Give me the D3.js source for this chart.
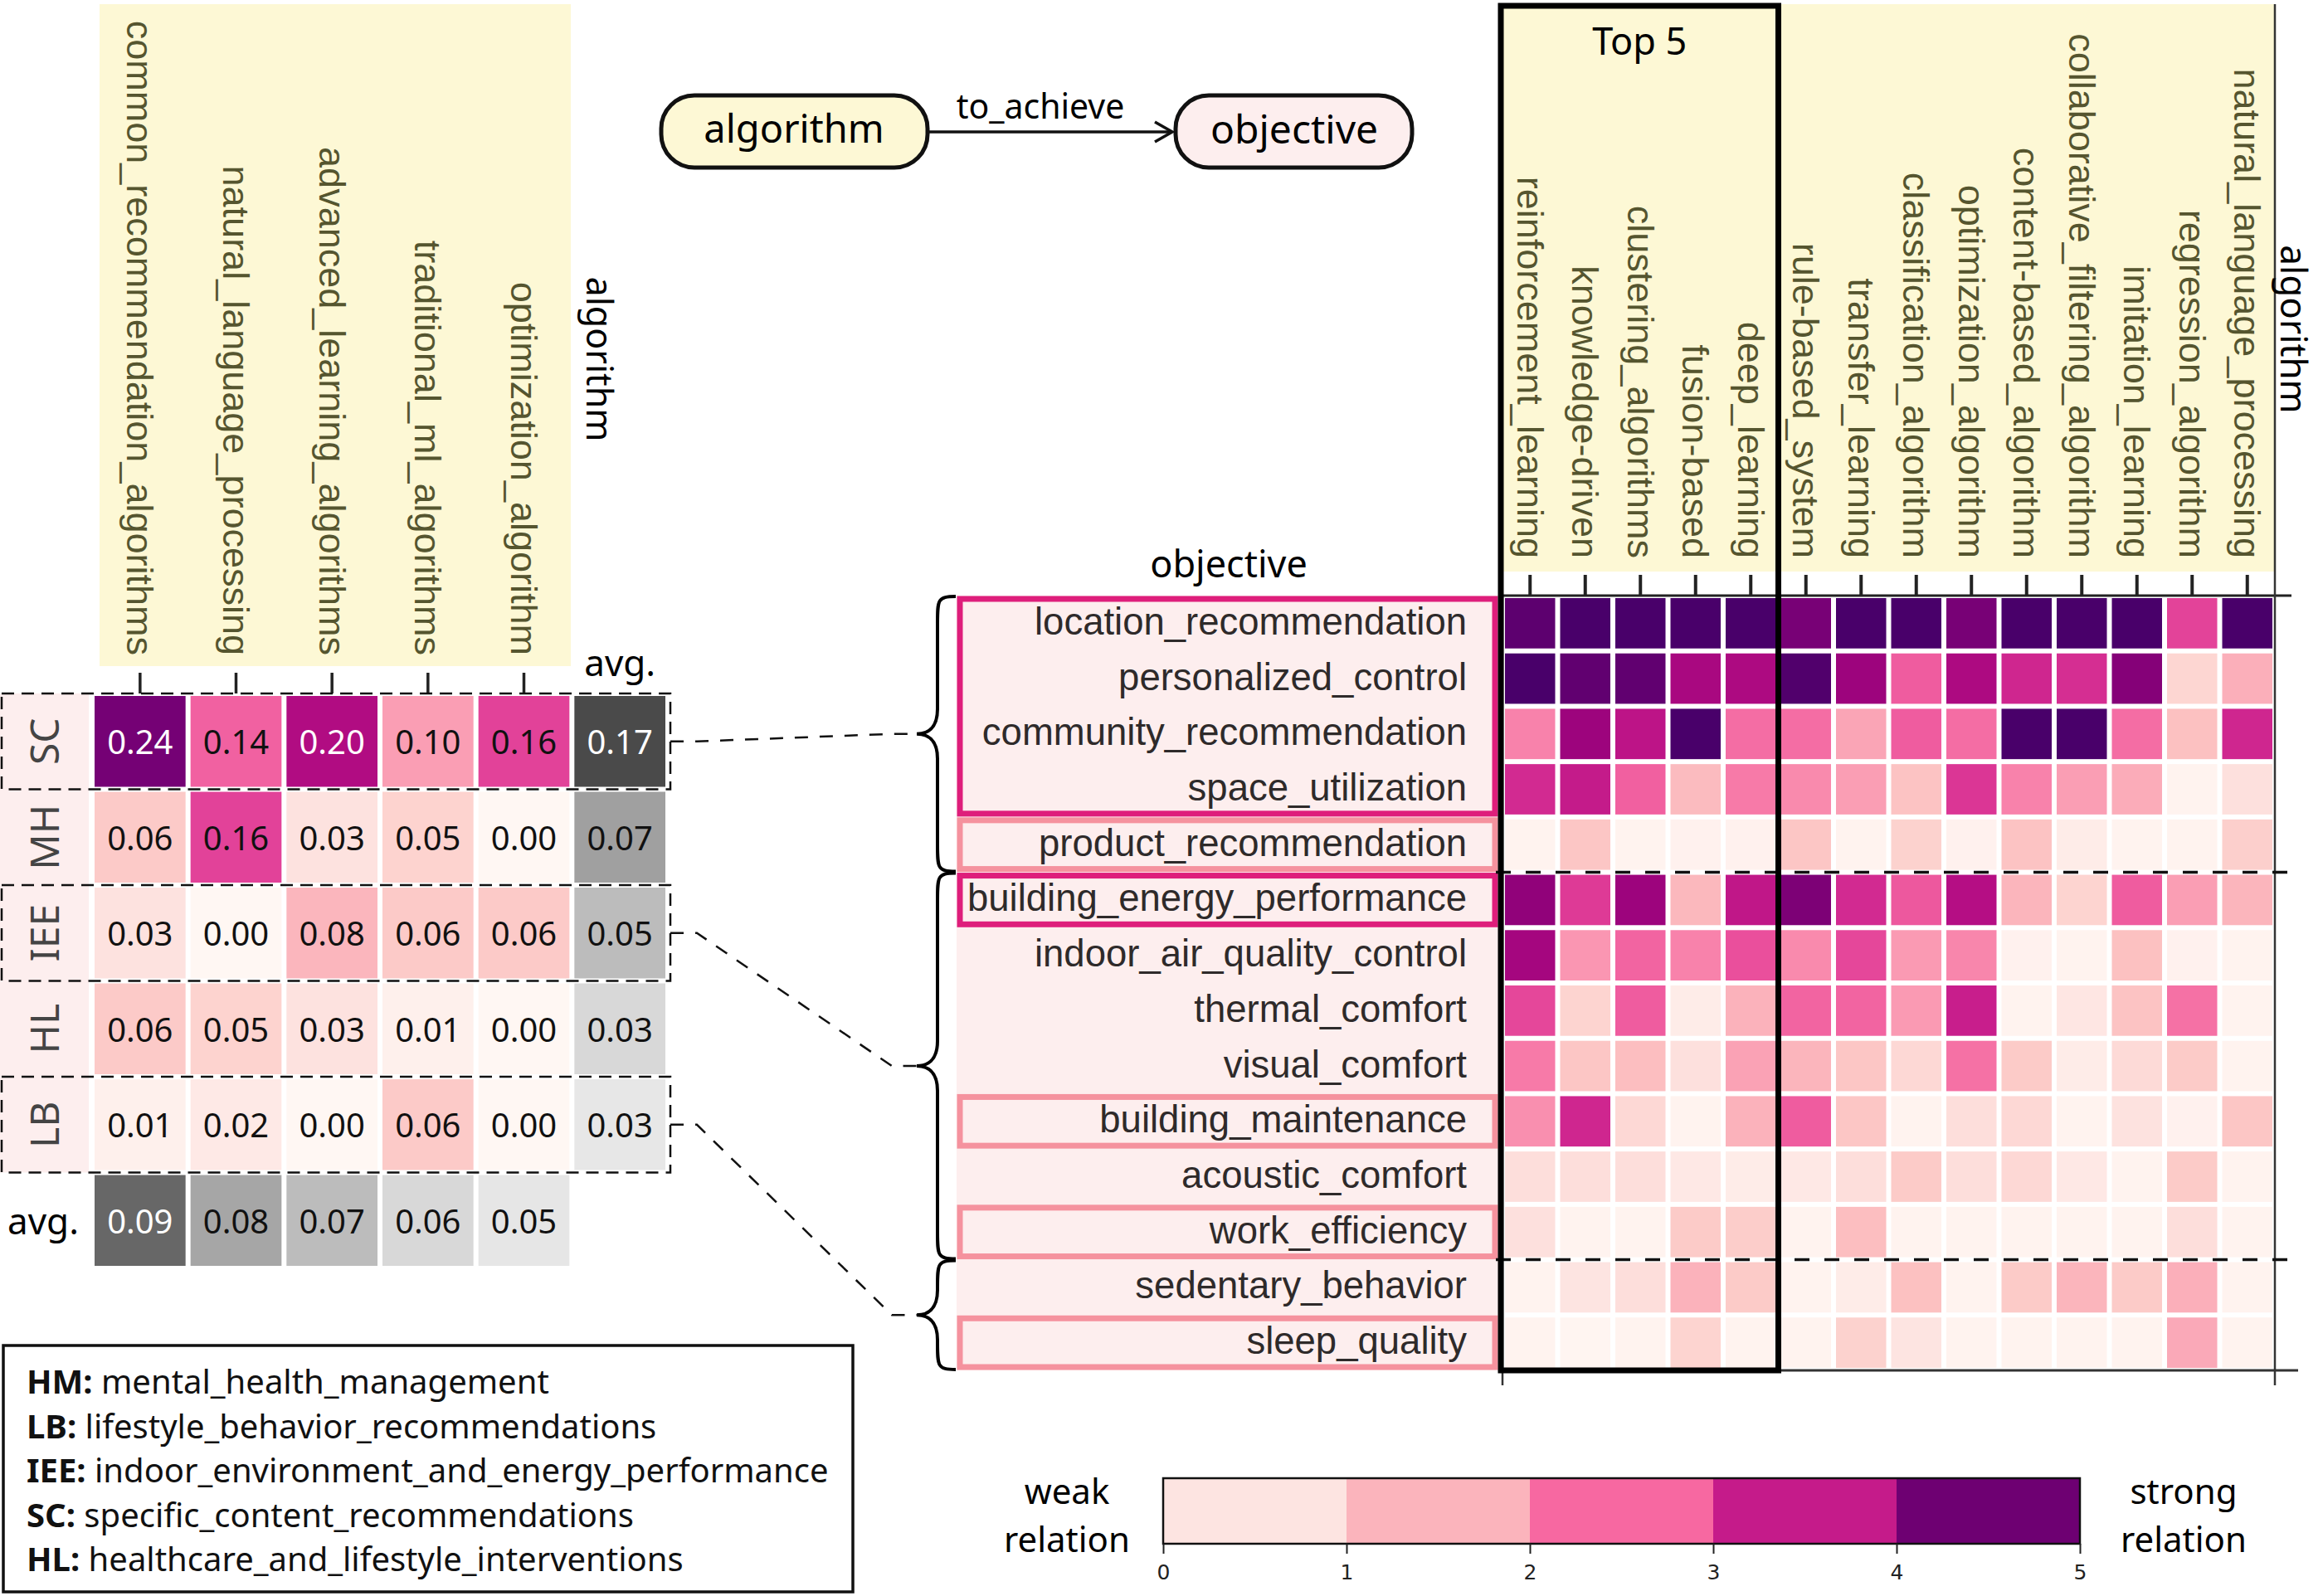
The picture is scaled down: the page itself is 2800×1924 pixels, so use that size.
<!DOCTYPE html>
<html>
<head>
<meta charset="utf-8">
<script src="https://cdn.jsdelivr.net/npm/d3@7"></script>
<style>
  body { margin: 0; background: #fff; }
  svg { display: block; }
</style>
</head>
<body>
<svg id="chart" width="2800" height="1924"></svg>
<script>
// ---------------- DATA ----------------
const leftAlgorithms = ['common_recommendation_algorithms', 'natural_language_processing',
  'advanced_learning_algorithms', 'traditional_ml_algorithms', 'optimization_algorithm'];
const leftGroups = ['SC', 'MH', 'IEE', 'HL', 'LB'];
const leftShares = [
  [0.24, 0.14, 0.20, 0.10, 0.16],
  [0.06, 0.16, 0.03, 0.05, 0.00],
  [0.03, 0.00, 0.08, 0.06, 0.06],
  [0.06, 0.05, 0.03, 0.01, 0.00],
  [0.01, 0.02, 0.00, 0.06, 0.00]
];
const groupAvg = [0.17, 0.07, 0.05, 0.03, 0.03];
const algorithmAvg = [0.09, 0.08, 0.07, 0.06, 0.05];
const linkedGroups = ['SC', 'IEE', 'LB'];

const rightAlgorithms = ['reinforcement_learning', 'knowledge-driven', 'clustering_algorithms',
  'fusion-based', 'deep_learning', 'rule-based_system', 'transfer_learning',
  'classification_algorithm', 'optimization_algorithm', 'content-based_algorithm',
  'collaborative_filtering_algorithm', 'imitation_learning', 'regression_algorithm',
  'natural_language_processing'];
const topFive = ['reinforcement_learning', 'knowledge-driven', 'clustering_algorithms', 'fusion-based', 'deep_learning'];
const objectives = ['location_recommendation', 'personalized_control', 'community_recommendation',
  'space_utilization', 'product_recommendation', 'building_energy_performance',
  'indoor_air_quality_control', 'thermal_comfort', 'visual_comfort', 'building_maintenance',
  'acoustic_comfort', 'work_efficiency', 'sedentary_behavior', 'sleep_quality'];
const relationScores = [
  [4.75, 5.0, 5.0, 5.0, 5.0, 4.4, 5.0, 5.0, 4.4, 5.0, 5.0, 5.0, 2.95, 5.0],
  [5.0, 4.7, 4.7, 3.8, 3.75, 4.9, 3.95, 2.65, 3.75, 3.3, 3.2, 4.25, 0.85, 1.6],
  [2.2, 3.95, 3.55, 5.0, 2.45, 2.45, 1.75, 2.65, 2.45, 5.0, 5.0, 2.45, 1.3, 3.3],
  [3.25, 3.45, 2.6, 1.4, 2.3, 2.1, 1.85, 1.25, 3.1, 2.2, 1.85, 1.65, 0.1, 0.6],
  [0.1, 1.2, 0.1, 0.15, 0.15, 1.2, 0.1, 0.95, 0.15, 1.25, 0.3, 0.1, 0.1, 1.0],
  [4.1, 3.05, 3.95, 1.45, 3.5, 4.35, 3.25, 2.7, 3.65, 1.5, 0.9, 2.65, 1.85, 1.5],
  [3.85, 1.95, 2.55, 2.2, 2.8, 2.1, 2.9, 1.9, 2.15, 0.15, 0.1, 1.3, 0.15, 0.1],
  [2.9, 0.9, 2.65, 0.3, 1.55, 2.55, 2.55, 1.9, 3.4, 0.1, 0.45, 1.25, 2.4, 0.1],
  [2.3, 1.2, 1.35, 0.6, 1.8, 1.5, 1.2, 0.8, 2.4, 1.1, 0.3, 0.75, 1.1, 0.1],
  [2.05, 3.3, 0.8, 0.1, 1.55, 2.65, 1.2, 0.1, 0.65, 0.8, 0.1, 0.55, 0.15, 1.2],
  [0.65, 0.65, 0.65, 0.4, 0.3, 0.4, 0.65, 1.1, 0.65, 0.8, 0.4, 0.1, 1.1, 0.1],
  [0.6, 0.1, 0.1, 1.1, 1.05, 0.1, 1.35, 0.1, 0.1, 0.1, 0.1, 0.1, 0.65, 0.1],
  [0.1, 0.5, 0.65, 1.55, 1.1, 0.1, 0.3, 1.3, 0.1, 1.1, 1.5, 1.1, 1.6, 0.1],
  [0.1, 0.05, 0.1, 0.9, 0.1, 0.1, 0.95, 0.5, 0.1, 0.1, 0.1, 0.1, 1.7, 0.1]
];
const objectiveGroups = [
  { group: 'SC', first: 'location_recommendation', last: 'product_recommendation' },
  { group: 'IEE', first: 'building_energy_performance', last: 'work_efficiency' },
  { group: 'LB', first: 'sedentary_behavior', last: 'sleep_quality' }
];
const strongBoxes = [['location_recommendation', 'space_utilization'],
  ['building_energy_performance', 'building_energy_performance']];
const weakBoxes = ['product_recommendation', 'building_maintenance', 'work_efficiency', 'sleep_quality'];

const colorbarTicks = [0, 1, 2, 3, 4, 5];
const colorbarEnds = [['weak', 'relation'], ['strong', 'relation']];
const legendEntries = [
  ['HM', 'mental_health_management'],
  ['LB', 'lifestyle_behavior_recommendations'],
  ['IEE', 'indoor_environment_and_energy_performance'],
  ['SC', 'specific_content_recommendations'],
  ['HL', 'healthcare_and_lifestyle_interventions']
];

// ---------------- DRAWING ----------------
const svg = d3.select('#chart');
const HUM = "'Noto Sans', 'Open Sans', sans-serif";
const ARI = "'Liberation Sans', Arial, sans-serif";
const YELLOW = '#fdf8d5', PINKBG = '#fdeeee', LABEL = '#55552f';

svg.append('rect').attr('width', 2800).attr('height', 1924).attr('fill', '#fff');

// ---- Top diagram ----
const diag = svg.append('g');
diag.append('rect').attr('x', 797).attr('y', 115).attr('width', 321).attr('height', 87)
  .attr('rx', 40).attr('fill', YELLOW).attr('stroke', '#111').attr('stroke-width', 5);
diag.append('rect').attr('x', 1417).attr('y', 115).attr('width', 285).attr('height', 87)
  .attr('rx', 40).attr('fill', PINKBG).attr('stroke', '#111').attr('stroke-width', 5);
diag.append('text').attr('x', 957).attr('y', 154).attr('text-anchor', 'middle')
  .attr('dominant-baseline', 'central').style('font', `47px ${HUM}`).text('algorithm');
diag.append('text').attr('x', 1560).attr('y', 154).attr('text-anchor', 'middle')
  .attr('dominant-baseline', 'central').style('font', `48px ${HUM}`).text('objective');
diag.append('line').attr('x1', 1118).attr('x2', 1411).attr('y1', 159).attr('y2', 159)
  .attr('stroke', '#111').attr('stroke-width', 3.5);
diag.append('path').attr('d', 'M1392,147 L1413,159 L1392,171').attr('fill', 'none')
  .attr('stroke', '#111').attr('stroke-width', 3.5);
diag.append('text').attr('x', 1254).attr('y', 143).attr('text-anchor', 'middle')
  .style('font', `41px ${HUM}`).text('to_achieve');

// ---- Left heatmap ----
const xL = d3.scaleBand().domain([...leftAlgorithms, 'avg']).range([111, 805]);
const yL = d3.scaleBand().domain([...leftGroups, 'avg']).range([836, 1529]);
const cL = d3.scaleSequential(d3.interpolateRdPu).domain([0, 0.27]);
const fmt = d3.format('.2f');

function rankGreys(values, tLevels) {
  const order = d3.range(values.length).sort((a, b) => d3.descending(values[a], values[b]) || a - b);
  const rank = [];
  order.forEach((idx, r) => { rank[idx] = r; });
  return values.map((v, i) => d3.interpolateGreys(tLevels[rank[i]]));
}
const groupAvgColors = rankGreys(groupAvg, [0.77, 0.47, 0.37, 0.25, 0.17]);
const algAvgColors = rankGreys(algorithmAvg, [0.67, 0.45, 0.37, 0.25, 0.18]);

const left = svg.append('g');
left.append('rect').attr('x', 120).attr('y', 5).attr('width', 568).attr('height', 798).attr('fill', YELLOW);
left.append('rect').attr('x', 0).attr('y', yL('SC')).attr('width', 107)
  .attr('height', yL('LB') + yL.bandwidth() - yL('SC')).attr('fill', PINKBG);

const leftCells = [];
leftGroups.forEach((g, i) => {
  leftAlgorithms.forEach((a, j) => leftCells.push({ row: g, col: a, v: leftShares[i][j], fill: cL(leftShares[i][j]) }));
  leftCells.push({ row: g, col: 'avg', v: groupAvg[i], fill: groupAvgColors[i] });
});
leftAlgorithms.forEach((a, j) => leftCells.push({ row: 'avg', col: a, v: algorithmAvg[j], fill: algAvgColors[j] }));

const lc = left.selectAll('g.lcell').data(leftCells).join('g').attr('class', 'lcell');
lc.append('rect')
  .attr('x', d => xL(d.col) + 3).attr('y', d => yL(d.row) + 3)
  .attr('width', xL.bandwidth() - 6).attr('height', yL.bandwidth() - 6)
  .attr('fill', d => d.fill);
lc.append('text')
  .attr('x', d => xL(d.col) + xL.bandwidth() / 2).attr('y', d => yL(d.row) + yL.bandwidth() / 2)
  .attr('text-anchor', 'middle').attr('dominant-baseline', 'central')
  .style('font', `40px ${HUM}`)
  .attr('fill', d => d3.hsl(d.fill).l < 0.45 ? '#fff' : '#111')
  .text(d => fmt(d.v));

left.selectAll('text.rowlab').data(leftGroups).join('text').attr('class', 'rowlab')
  .attr('transform', d => `translate(52,${yL(d) + yL.bandwidth() / 2}) rotate(-90)`)
  .attr('text-anchor', 'middle').attr('dominant-baseline', 'central')
  .style('font', `48px ${HUM}`).attr('fill', '#444').text(d => d);

left.selectAll('text.collab').data(leftAlgorithms).join('text').attr('class', 'collab')
  .attr('transform', d => `translate(${xL(d) + xL.bandwidth() / 2},790) rotate(90)`)
  .attr('text-anchor', 'end').attr('dominant-baseline', 'central')
  .style('font', `45px ${ARI}`).attr('fill', LABEL).text(d => d);
left.selectAll('line.tick').data(leftAlgorithms).join('line').attr('class', 'tick')
  .attr('x1', d => xL(d) + xL.bandwidth() / 2).attr('x2', d => xL(d) + xL.bandwidth() / 2)
  .attr('y1', 811).attr('y2', 836).attr('stroke', '#222').attr('stroke-width', 3.5);

left.append('text').attr('transform', 'translate(723,433) rotate(90)')
  .attr('text-anchor', 'middle').attr('dominant-baseline', 'central')
  .style('font', `43px ${HUM}`).text('algorithm');
left.append('text').attr('x', xL('avg') + xL.bandwidth() / 2).attr('y', 815).attr('text-anchor', 'middle')
  .style('font', `44px ${HUM}`).text('avg.');
left.append('text').attr('x', 52).attr('y', yL('avg') + yL.bandwidth() / 2)
  .attr('text-anchor', 'middle').attr('dominant-baseline', 'central')
  .style('font', `44px ${HUM}`).text('avg.');

// dashed boxes
left.selectAll('rect.dbox').data(linkedGroups).join('rect').attr('class', 'dbox')
  .attr('x', 2).attr('y', d => yL(d)).attr('width', 806).attr('height', yL.bandwidth())
  .attr('fill', 'none').attr('stroke', '#111').attr('stroke-width', 2.5)
  .attr('stroke-dasharray', '15,9');

// ---- Right heatmap ----
const xR = d3.scaleBand().domain(rightAlgorithms).range([1811, 2742]);
const yR = d3.scaleBand().domain(objectives).range([718, 1652]);
const cR = d3.scaleSequential(d3.interpolateRdPu).domain([0, 5]);
const right = svg.append('g');

right.append('rect').attr('x', 1806).attr('y', 5).attr('width', 937).attr('height', 684).attr('fill', YELLOW);
right.append('rect').attr('x', 1153).attr('y', 718).attr('width', 653).attr('height', 934).attr('fill', PINKBG);

const rightCells = [];
objectives.forEach((o, i) => rightAlgorithms.forEach((a, j) => rightCells.push({ o, a, v: relationScores[i][j] })));
right.selectAll('rect.rcell').data(rightCells).join('rect').attr('class', 'rcell')
  .attr('x', d => xR(d.a) + 3).attr('y', d => yR(d.o) + 3)
  .attr('width', xR.bandwidth() - 6).attr('height', yR.bandwidth() - 6)
  .attr('fill', d => cR(d.v));

right.selectAll('text.rcol').data(rightAlgorithms).join('text').attr('class', 'rcol')
  .attr('transform', d => `translate(${xR(d) + xR.bandwidth() / 2},673) rotate(90)`)
  .attr('text-anchor', 'end').attr('dominant-baseline', 'central')
  .style('font', `45px ${ARI}`).attr('fill', LABEL).text(d => d);
right.selectAll('line.rtick').data(rightAlgorithms).join('line').attr('class', 'rtick')
  .attr('x1', d => xR(d) + xR.bandwidth() / 2).attr('x2', d => xR(d) + xR.bandwidth() / 2)
  .attr('y1', 693).attr('y2', 718).attr('stroke', '#222').attr('stroke-width', 4);

right.selectAll('text.obj').data(objectives).join('text').attr('class', 'obj')
  .attr('x', 1768).attr('y', d => yR(d) + yR.bandwidth() / 2 - 2)
  .attr('text-anchor', 'end').attr('dominant-baseline', 'central')
  .style('font', `45.5px ${ARI}`).attr('fill', '#2e2a2a').text(d => d);

// highlight boxes
strongBoxes.forEach(([f, l]) => {
  right.append('rect').attr('x', 1157).attr('y', yR(f) + 4).attr('width', 645)
    .attr('height', yR(l) + yR.bandwidth() - 4 - (yR(f) + 4))
    .attr('fill', 'none').attr('stroke', '#de1e7b').attr('stroke-width', 7);
});
weakBoxes.forEach(o => {
  right.append('rect').attr('x', 1157).attr('y', yR(o) + 4).attr('width', 645)
    .attr('height', yR.bandwidth() - 8)
    .attr('fill', 'none').attr('stroke', '#f5929e').attr('stroke-width', 7);
});

// axes lines
right.append('line').attr('x1', 1809).attr('x2', 2762).attr('y1', 718).attr('y2', 718).attr('stroke', '#222').attr('stroke-width', 3);
right.append('line').attr('x1', 2742).attr('x2', 2742).attr('y1', 5).attr('y2', 1670).attr('stroke', '#333').attr('stroke-width', 2.5);
right.append('line').attr('x1', 1809).attr('x2', 2770).attr('y1', 1652).attr('y2', 1652).attr('stroke', '#333').attr('stroke-width', 3);
right.append('line').attr('x1', 1811).attr('x2', 1811).attr('y1', 718).attr('y2', 1670).attr('stroke', '#333').attr('stroke-width', 2.5);
objectiveGroups.slice(1).forEach(g => {
  right.append('line').attr('x1', 1803).attr('x2', 2758).attr('y1', yR(g.first)).attr('y2', yR(g.first))
    .attr('stroke', '#111').attr('stroke-width', 3.5).attr('stroke-dasharray', '18,18');
});

// Top 5 box
right.append('rect').attr('x', 1809).attr('y', 7)
  .attr('width', xR(rightAlgorithms[topFive.length]) - 1809).attr('height', 1652 - 7)
  .attr('fill', 'none').attr('stroke', '#000').attr('stroke-width', 7);
right.append('text').attr('x', (1809 + xR(rightAlgorithms[topFive.length])) / 2).attr('y', 66)
  .attr('text-anchor', 'middle').style('font', `45px ${HUM}`).text('Top 5');

right.append('text').attr('transform', 'translate(2766,397) rotate(90)')
  .attr('text-anchor', 'middle').attr('dominant-baseline', 'central')
  .style('font', `44px ${HUM}`).text('algorithm');
right.append('text').attr('x', 1481).attr('y', 696).attr('text-anchor', 'middle')
  .style('font', `45px ${HUM}`).text('objective');

// braces and connectors
const xEnd = 1152, xSpine = 1130, xTip = 1105;
objectiveGroups.forEach(g => {
  const top = yR(g.first) + 1, bot = yR(g.last) + yR.bandwidth() - 1, mid = (top + bot) / 2;
  const d = `M${xEnd},${top} C${xSpine},${top} ${xSpine},${top + 4} ${xSpine},${top + 32}` +
    ` L${xSpine},${mid - 30} C${xSpine},${mid - 6} ${xTip + 12},${mid} ${xTip},${mid}` +
    ` C${xTip + 12},${mid} ${xSpine},${mid + 6} ${xSpine},${mid + 30}` +
    ` L${xSpine},${bot - 32} C${xSpine},${bot - 4} ${xSpine},${bot} ${xEnd},${bot}`;
  svg.append('path').attr('d', d).attr('fill', 'none').attr('stroke', '#000').attr('stroke-width', 4);
  const yc = yL(g.group) + yL.bandwidth() / 2;
  svg.append('path').attr('d', `M808,${yc} L840,${yc} L1075,${mid} L${xTip},${mid}`)
    .attr('fill', 'none').attr('stroke', '#111').attr('stroke-width', 2.5).attr('stroke-dasharray', '16,14');
});

// ---- Colorbar ----
const cb = svg.append('g');
const xCB = d3.scaleLinear().domain([0, 5]).range([1402, 2507]);
const cbColors = d3.scaleOrdinal().domain(d3.range(5)).range(['#fde4e1', '#fbb4bc', '#f768a1', '#c51b8a', '#6e0072']);
cb.selectAll('rect.bin').data(d3.range(5)).join('rect').attr('class', 'bin')
  .attr('x', d => xCB(d)).attr('y', 1782).attr('width', d => xCB(d + 1) - xCB(d)).attr('height', 79)
  .attr('fill', d => cbColors(d));
cb.append('rect').attr('x', 1402).attr('y', 1782).attr('width', 1105).attr('height', 79)
  .attr('fill', 'none').attr('stroke', '#111').attr('stroke-width', 2.5);
const cbAxis = cb.append('g').attr('transform', 'translate(0,1861)')
  .call(d3.axisBottom(xCB).tickValues(colorbarTicks).tickSize(12).tickFormat(d3.format('d')));
cbAxis.select('.domain').remove();
cbAxis.selectAll('line').attr('stroke', '#222').attr('stroke-width', 2);
cbAxis.selectAll('text').style('font', "25px 'DejaVu Sans', sans-serif").attr('fill', '#222').attr('dy', '1.1em');

colorbarEnds.forEach(([a, b], i) => {
  const x = i === 0 ? 1286 : 2632;
  cb.append('text').attr('x', x).attr('y', 1813).attr('text-anchor', 'middle').style('font', `42px ${HUM}`).text(a);
  cb.append('text').attr('x', x).attr('y', 1871).attr('text-anchor', 'middle').style('font', `42px ${HUM}`).text(b);
});

// ---- Legend ----
const lg = svg.append('g');
lg.append('rect').attr('x', 4).attr('y', 1622).attr('width', 1024).attr('height', 297)
  .attr('fill', 'none').attr('stroke', '#111').attr('stroke-width', 3.5);
legendEntries.forEach(([k, v], i) => {
  const t = lg.append('text').attr('x', 32).attr('y', 1680 + i * 53.5).style('font', `40px ${HUM}`).attr('fill', '#111');
  t.append('tspan').style('font-weight', 'bold').text(k + ':');
  t.append('tspan').text(' ' + v);
});
</script>
</body>
</html>
